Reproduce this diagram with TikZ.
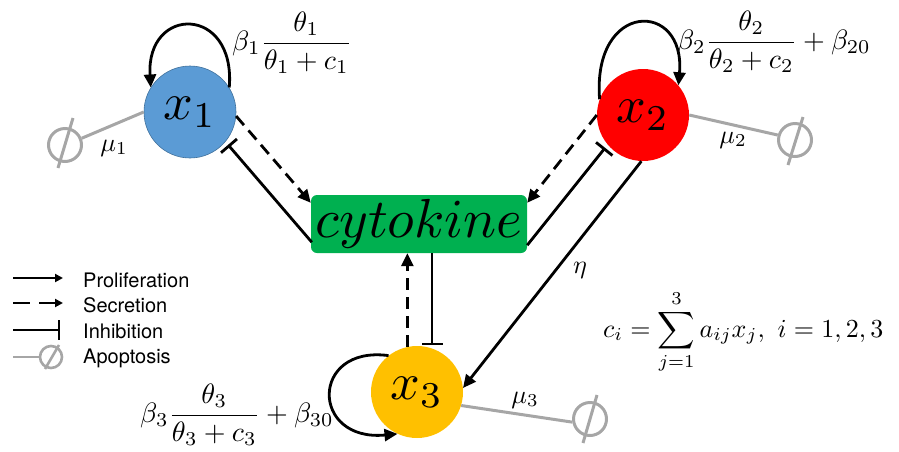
\documentclass[tikz,border=0pt]{standalone}
\usepackage{amsmath}
\usepackage{graphicx}
\usepackage{fontspec}
\newfontfamily\legendfont{TeX Gyre Heros}
\usetikzlibrary{arrows.meta,calc}
\definecolor{cblue}{HTML}{5B9BD5}
\definecolor{cblueedge}{HTML}{41719C}
\definecolor{cred}{HTML}{FF0000}
\definecolor{cyellow}{HTML}{FFC000}
\definecolor{cgreen}{HTML}{00B050}
\definecolor{apogray}{HTML}{A6A6A6}
\newcommand{\celltext}[1]{\scalebox{5.2}{#1}}
\newcommand{\labtext}[1]{\scalebox{2.6}{#1}}
\newcommand{\fractext}[1]{\scalebox{2.8}{#1}}
\begin{document}
\begin{tikzpicture}[x=1pt,y=-1pt,
  cell/.style={circle, minimum size=92pt, inner sep=0pt},
  lab/.style={inner sep=0pt},
  prolif/.style={line width=2.8pt, -{Triangle[length=13pt,width=12pt]}},
  secr/.style={prolif, dash pattern=on 12pt off 7pt},
  inhib/.style={line width=2.8pt, -{Bar[width=21pt,line width=2.8pt]}},
  apo/.style={draw=apogray, line width=3pt},
  nullset/.style={circle, draw=apogray, line width=3pt, minimum size=33pt, inner sep=0pt},
  nullsmall/.style={circle, draw=apogray, line width=2.6pt, minimum size=22pt, inner sep=0pt},
  legprolif/.style={line width=2.2pt, -{Triangle[length=8pt,width=8pt]}},
  legsecr/.style={legprolif, dash pattern=on 17pt off 9pt},
  leginhib/.style={line width=2.2pt, -{Bar[width=20pt,line width=2.2pt]}},
  legtext/.style={font=\legendfont\fontsize{20}{24}\selectfont, anchor=base west, inner sep=0pt}
]
\useasboundingbox (0,0) rectangle (899,451);

% cells
\node[cell, fill=cblue, draw=cblueedge, line width=0.6pt] (x1) at (190,112) {\celltext{$x_1$}};
\node[cell, fill=cred] (x2) at (643,115) {\celltext{$x_2$}};
\node[cell, fill=cyellow] (x3) at (417,392) {\celltext{$x_3$}};
\node[fill=cgreen, rounded corners=6pt, minimum width=216pt, minimum height=58pt,
      inner sep=0pt] (cyt) at (419,224) {\scalebox{5.5}{$cytokine$}};

% self loops
\draw[prolif] (x1.32) .. controls (236,5) and (146,5) .. (x1.148);
\draw[prolif] (x2.160) .. controls (592,0) and (686,0) .. (x2.40);
\draw[prolif] (x3.128) .. controls (310,345) and (310,442) .. (x3.245);

% x1 - cytokine
\draw[secr] (x1.-5) -- ($(cyt.north west)+(0,8)$);
\draw[inhib, shorten >=4pt] ($(cyt.south west)+(1,-11)$) -- (x1.-40);

% x2 - cytokine
\draw[secr] (x2.west) -- ($(cyt.north east)+(0,8)$);
\draw[inhib, shorten >=4pt] ($(cyt.south east)+(0,-8)$) -- (x2.-140);

% x3 - cytokine
\draw[secr] (x3.102) -- (x3.102 |- cyt.south);
\draw[inhib, shorten >=3pt] (x3.71 |- cyt.south) -- (x3.71);

% x2 -> x3
\draw[prolif] (x2.-92) -- (x3.5);
\node[lab] (eta) at (580,270) {\labtext{$\eta$}};

% apoptosis
\node[nullset] (e1) at (65,145) {};
\draw[apo] (x1.west) -- (e1.22);
\draw[apo] (73,118) -- (58,168);
\node[nullset] (e2) at (795,140) {};
\draw[apo] (x2.east) -- (e2.164);
\draw[apo] (803,117) -- (788,165);
\node[nullset] (e3) at (590,419) {};
\draw[apo] (x3.-17) -- (e3.190);
\draw[apo] (597,395) -- (583,443);

\node[lab] (mu1) at (114,148) {\labtext{$\mu_1$}};
\node[lab] (mu2) at (733,140) {\labtext{$\mu_2$}};
\node[lab] (mu3) at (525,400) {\labtext{$\mu_3$}};

% rate labels
\node[lab, anchor=west] (f1) at (232,43) {\fractext{$\beta_1\dfrac{\theta_1}{\theta_1+c_1}$}};
\node[lab, anchor=west] (f2) at (677,42) {\fractext{$\beta_2\dfrac{\theta_2}{\theta_2+c_2}+\beta_{20}$}};
\node[lab, anchor=west] (f3) at (140,415) {\fractext{$\beta_3\dfrac{\theta_3}{\theta_3+c_3}+\beta_{30}$}};
\node[lab, anchor=base west] (ci) at (603,337) {\labtext{$\displaystyle c_i=\sum_{j=1}^{3}a_{ij}x_j,\ i=1,2,3$}};

% legend
\coordinate (l1a) at (13,278); \coordinate (l1b) at (63,278);
\draw[legprolif] (l1a) -- (l1b);
\node[legtext] (t1) at (83,287) {Proliferation};
\coordinate (l2a) at (13,303); \coordinate (l2b) at (63,303);
\draw[legsecr] (l2a) -- (l2b);
\node[legtext] (t2) at (83,312) {Secretion};
\coordinate (l3a) at (13,330); \coordinate (l3b) at (60,330);
\draw[leginhib] (l3a) -- (l3b);
\node[legtext] (t3) at (83,338) {Inhibition};
\coordinate (l4a) at (13,357);
\node[nullsmall] (e4) at (51,357) {};
\draw[apo, line width=2.6pt] (l4a) -- (e4);
\draw[apo, line width=2.6pt] (59,345) -- (45,369);
\node[legtext] (t4) at (83,363) {Apoptosis};
\end{tikzpicture}
\end{document}
